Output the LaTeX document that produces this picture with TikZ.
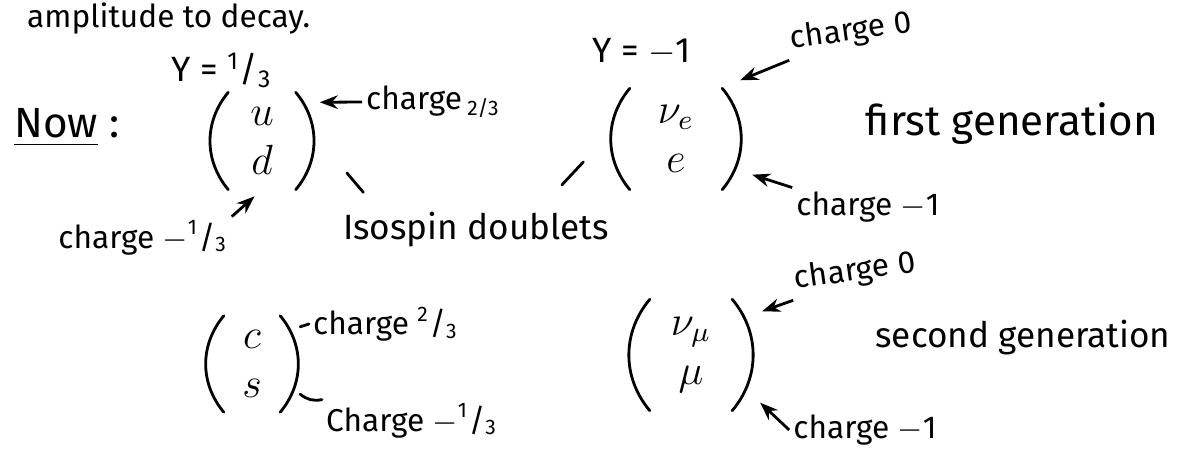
\documentclass[tikz,border=0pt]{standalone}
\usepackage{fontspec}
\setmainfont{Fira Sans}
\usepackage{amsmath}
\usetikzlibrary{
    arrows.meta,
    positioning
}
\newcommand{\third}[1]{\textsuperscript{#1}/\textsubscript{3}}
\tikzstyle{note} = [
    inner sep=1pt,
    font=\normalsize
]
\tikzstyle{charge} = [
    inner sep=1pt,
    font=\small
]
\tikzstyle{paren} = [
    thick,
    line cap=round
]
\tikzstyle{doublet} = [
    inner sep=0pt,
    align=center,
    font=\large,
    append after command={
        (\tikzlastnode.north west) edge[paren, bend right=40] (\tikzlastnode.south west)
        (\tikzlastnode.north east) edge[paren, bend left=40] (\tikzlastnode.south east)
    }
]
\tikzstyle{pointer} = [
    ->,
    >={Stealth[length=1.8mm]},
    thick
]
\tikzstyle{stroke} = [
    thick,
    line cap=round
]

\begin{document}
\begin{tikzpicture}[x=0.1mm, y=-0.1mm]
        \useasboundingbox (0,0) rectangle (1188,451);

        % heading
        \node[note, font=\small, anchor=base west] (amp) at (23,28) {amplitude to decay.};
        \node[note, font=\large, anchor=base west] (now) at (10,138) {\underline{Now} :};

        % quark doublet, first generation
        \node[doublet, minimum width=6.6mm, minimum height=9.6mm] (ud) at (262,141) {$u$\\$d$};
        \node[note] (yud) at (222,70) {Y = \third{1}};
        \node[charge, anchor=west] (cudu) at (362,102) {charge\,\textsubscript{2/3}};
        \draw[pointer] (cudu.west) -- ([shift={(24,10)}]ud.north east);
        \node[charge] (cudd) at (143,238) {charge $-$\third{1}};
        \draw[pointer, shorten >=1mm] (cudd.north east) -- (ud.south);

        % lepton doublet, first generation
        \node[doublet, minimum width=9.1mm, minimum height=10mm] (nue) at (676,139) {$\nu_e$\\$e$};
        \node[note] (ynue) at (642,52) {Y = $-$1};
        \node[charge, rotate=8] (cne) at (851,32) {charge 0};
        \draw[pointer] (cne.south west) -- ([shift={(18,-8)}]nue.north east);
        \node[charge] (cee) at (868,207) {charge $-$1};
        \draw[pointer] (cee.north west) -- ([shift={(30,-15)}]nue.south east);
        \node[note, font=\large] (first) at (1012,124) {first generation};

        % Isospin doublets
        \node[note, anchor=base] (iso) at (476,240) {Isospin doublets};
        \draw[stroke, shorten <=2.1mm, shorten >=7.9mm] ([xshift=3.8mm]iso.north west) -- (ud.40);
        \draw[stroke, shorten <=3.2mm, shorten >=6.8mm] ([xshift=20.1mm]iso.north west) -- (nue.150);

        % quark doublet, second generation
        \node[doublet, minimum width=5.5mm, minimum height=9.5mm] (cs) at (252,364) {$c$\\$s$};
        \node[charge, anchor=west] (ccsu) at (309,324) {charge \third{2}};
        \draw[stroke] ([shift={(20,11)}]cs.north east) -- (ccsu.west);
        \node[charge, anchor=west] (ccsd) at (322,421) {Charge $-$\third{1}};
        \draw[stroke] ([shift={(20,-18)}]cs.south east) to[bend right=25] (ccsd.north west);

        % lepton doublet, second generation
        \node[doublet, minimum width=8.1mm, minimum height=11mm] (numu) at (691,355) {$\nu_\mu$\\$\mu$};
        \node[charge, rotate=8] (cmu) at (855,272) {charge 0};
        \draw[pointer] (cmu.south west) -- ([shift={(30,12)}]numu.north east);
        \node[charge] (cmm) at (865,430) {charge $-$1};
        \draw[pointer] (cmm.west) -- ([shift={(28,-8)}]numu.south east);
        \node[note] (second) at (1023,338) {second generation};
    \end{tikzpicture}
\end{document}
